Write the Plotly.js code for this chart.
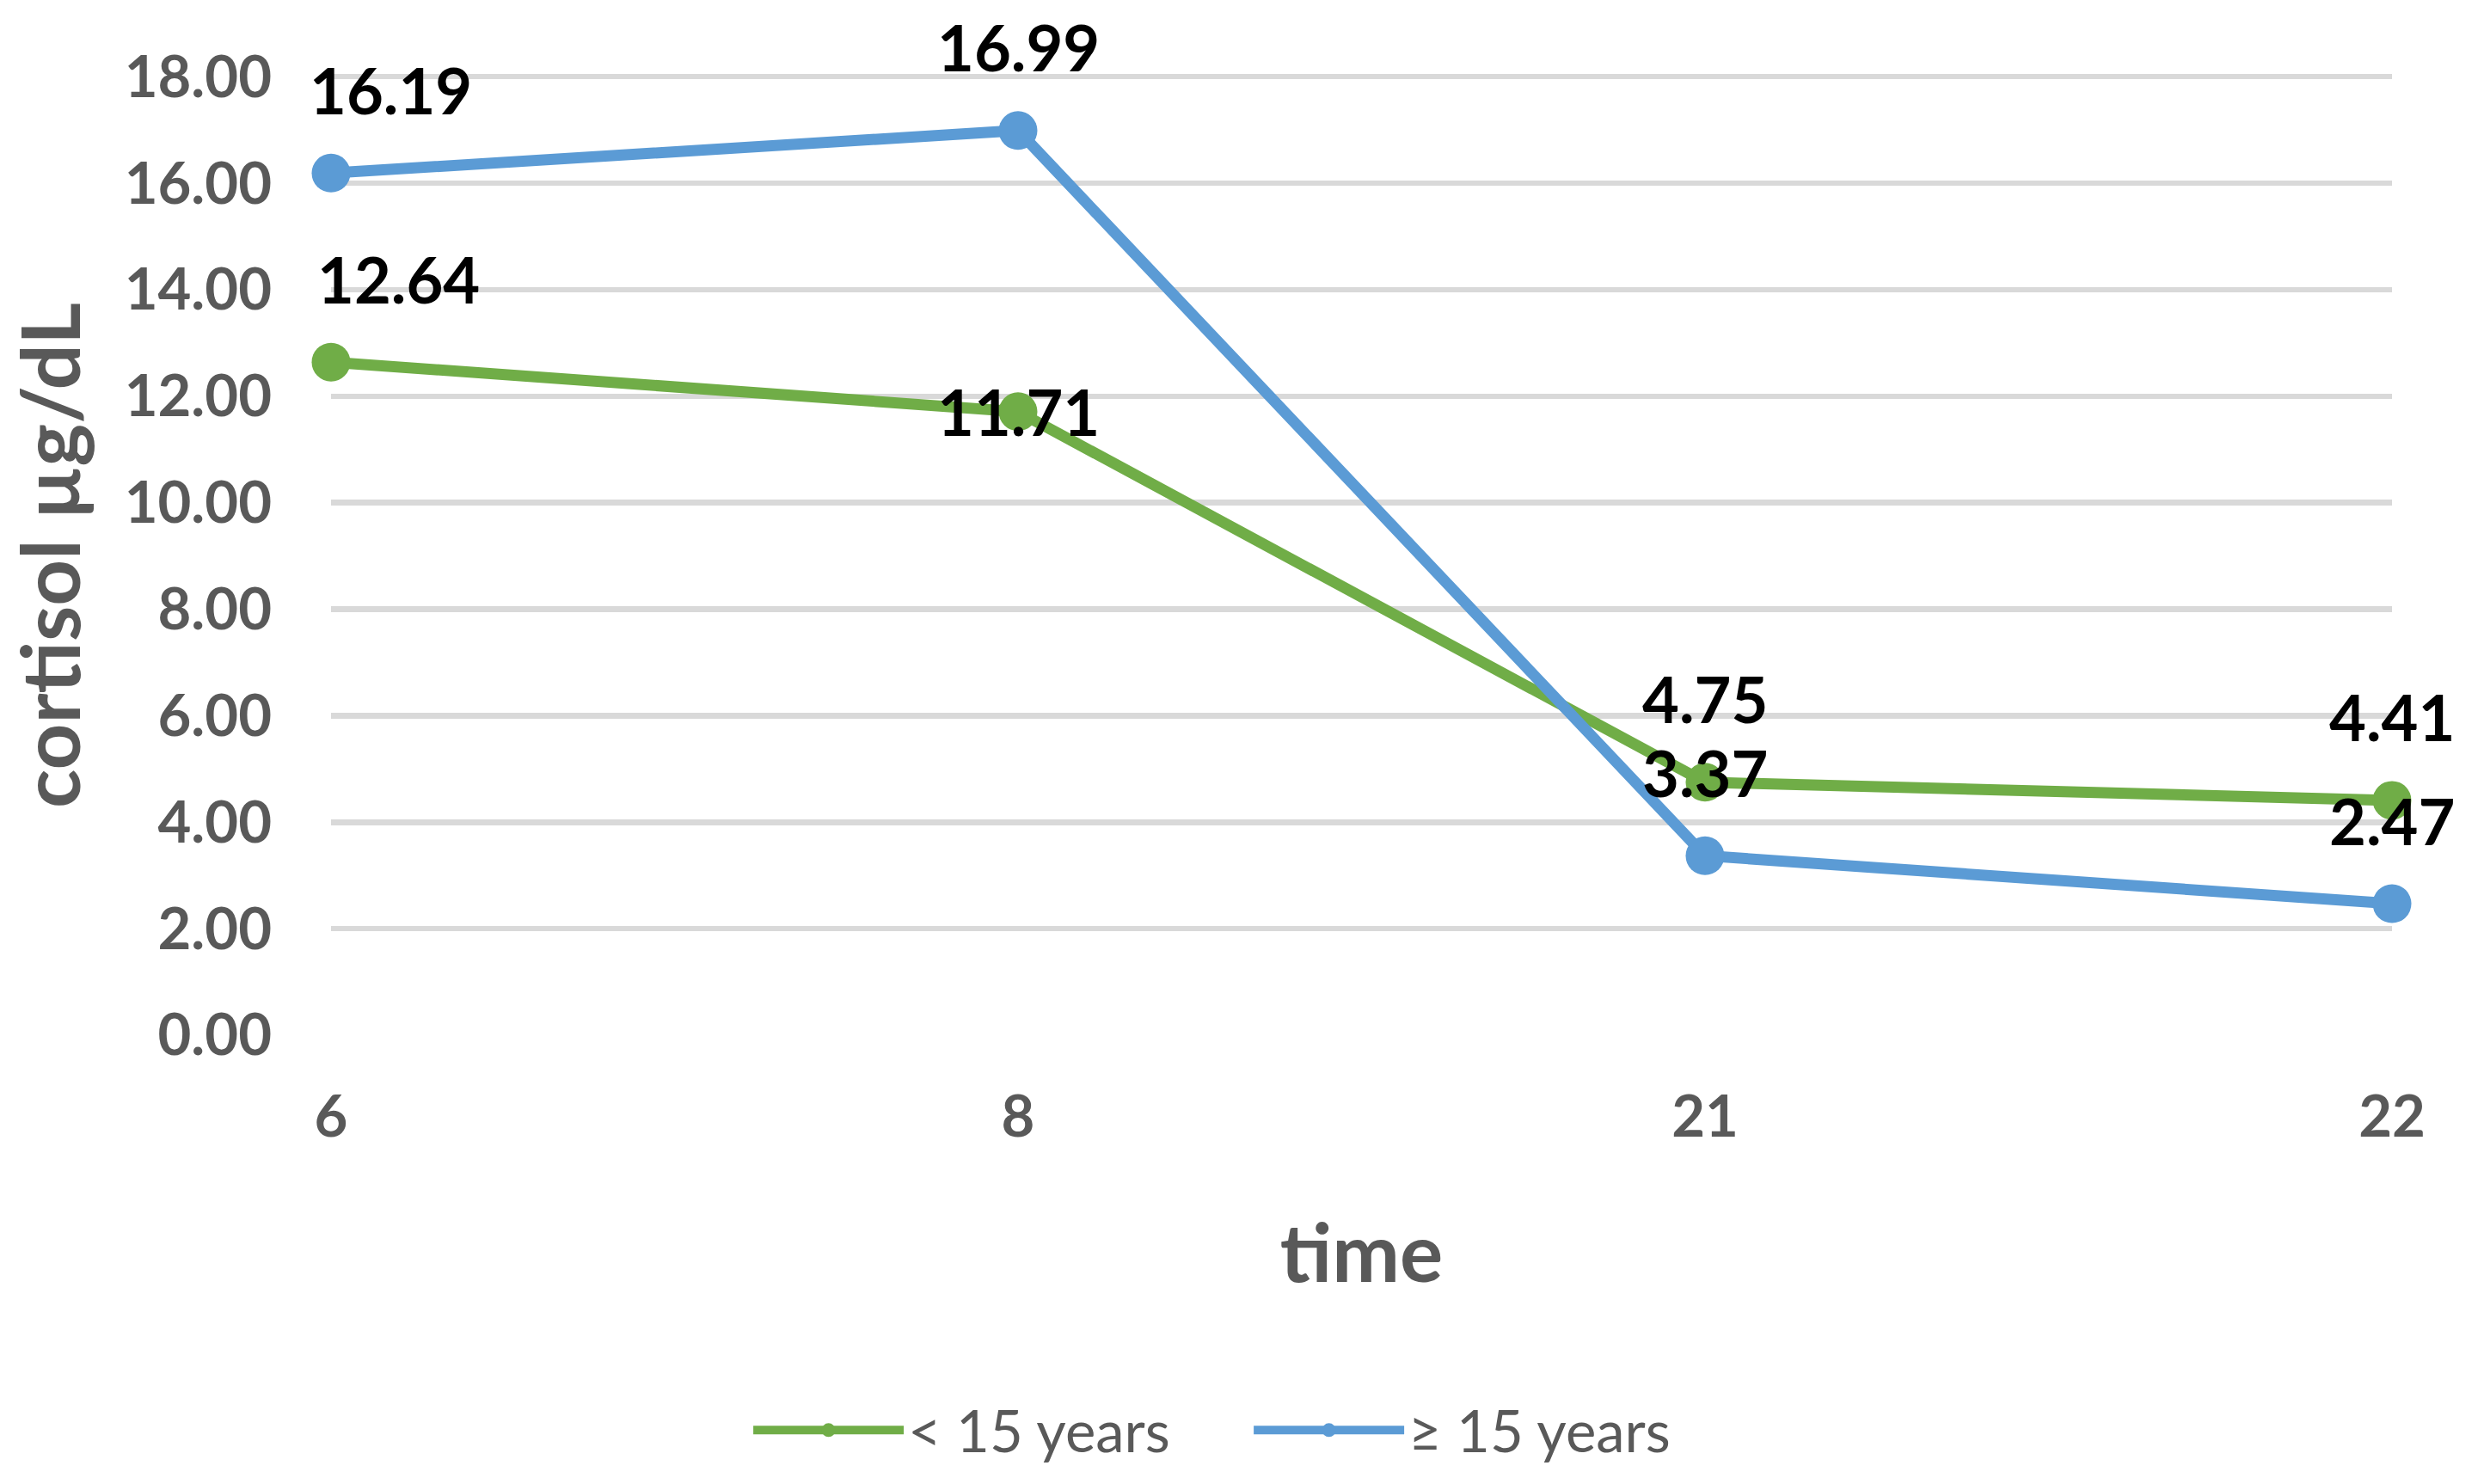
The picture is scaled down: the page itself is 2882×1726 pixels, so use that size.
<!DOCTYPE html>
<html>
<head>
<meta charset="utf-8">
<script src="https://cdn.plot.ly/plotly-3.0.1.min.js"></script>
<style>html,body{margin:0;padding:0;background:#fff;}#chart{width:2882px;height:1726px;}</style>
</head>
<body>
<div id="chart"></div>
<script>
const categories = ['6', '8', '21', '22'];
const seriesNames = ['< 15 years', '\u2265 15 years'];
const under15 = [12.64, 11.71, 4.75, 4.41];
const over15 = [16.19, 16.99, 3.37, 2.47];
const yTicks = [0, 2, 4, 6, 8, 10, 12, 14, 16, 18];

const GREEN = '#70AD47';
const BLUE = '#5B9BD5';
const FONT = 'Lato, "Open Sans", sans-serif';

function mkTrace(name, vals, color) {
  return {
    type: 'scatter', mode: 'lines+markers', name: name,
    x: categories, y: vals, cliponaxis: false,
    line: {color: color, width: 13},
    marker: {color: color, size: 45}
  };
}

const traces = [mkTrace(seriesNames[0], under15, GREEN), mkTrace(seriesNames[1], over15, BLUE)];

// data labels: annotations on the category axis (x as category index)
function labels(vals, centeredIdx, firstShift) {
  return vals.map((v, i) => ({
    x: categories.indexOf(categories[i]), y: v, xref: 'x', yref: 'y',
    text: v.toFixed(2), showarrow: false,
    xanchor: i === 0 ? 'left' : 'center', yanchor: 'middle',
    xshift: i === 0 ? firstShift : 0,
    yshift: centeredIdx.includes(i) ? 0 : 97,
    font: {family: FONT, size: 74, color: '#000000', weight: 700}
  }));
}

const annotations = labels(under15, [1], -18).concat(labels(over15, [], -27));

const layout = {
  width: 2882, height: 1726,
  margin: {l: 385, r: 100, t: 88, b: 517},
  paper_bgcolor: '#ffffff', plot_bgcolor: '#ffffff',
  showlegend: true,
  legend: {
    orientation: 'h', x: 0.2028, xanchor: 'left', y: -0.412, yanchor: 'middle',
    font: {family: FONT, size: 67, color: '#595959'},
    itemwidth: 175, entrywidth: 392, traceorder: 'normal'
  },
  xaxis: {
    type: 'category', range: [0, 3], showgrid: false, zeroline: false, showline: false,
    ticks: '', ticklabelstandoff: 50,
    tickfont: {family: FONT, size: 67, color: '#595959', weight: 700},
    title: {text: 'time', standoff: 90, font: {family: FONT, size: 94, color: '#595959', weight: 700}}
  },
  yaxis: {
    range: [0, 18.02], tickvals: yTicks, tickformat: '.2f',
    showgrid: true, gridcolor: '#D9D9D9', gridwidth: 6.5, zeroline: false, showline: false,
    ticks: '', ticklabelstandoff: 68,
    tickfont: {family: FONT, size: 67, color: '#595959', weight: 700},
    title: {text: 'cortisol \u00b5g/dL', standoff: 40, font: {family: FONT, size: 94, color: '#595959', weight: 700}}
  },
  annotations: annotations
};

Plotly.newPlot('chart', traces, layout, {displayModeBar: false, staticPlot: true});
</script>
</body>
</html>
